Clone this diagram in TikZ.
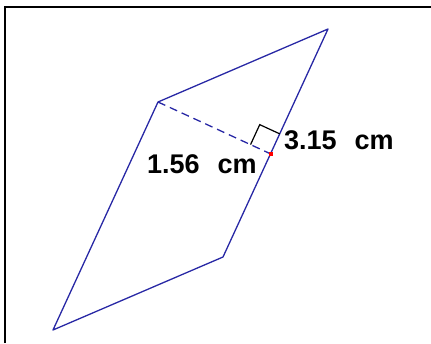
\documentclass[tikz,border=0pt]{standalone}
\usepackage{fontspec}
\setmainfont{Liberation Sans}
\usetikzlibrary{calc}
\definecolor{pgblue}{RGB}{40,40,165}
\begin{document}
\begin{tikzpicture}[x=1pt,y=-1pt,
        side/.style={pgblue, line width=1.3pt, line join=round},
        lbl/.style={anchor=base west, inner sep=0pt, font=\fontsize{27}{30}\selectfont\bfseries}]
            \useasboundingbox (0,0) rectangle (431,343);
            \draw [line width=2pt] (5,343) -- (5,6.5) -- (431,6.5);
            \coordinate (A) at (158,102);
            \coordinate (B) at (328,29);
            \coordinate (C) at (223,257);
            \coordinate (D) at (53,330);
            \coordinate (F) at ($(C)!(A)!(B)$);
            \draw [side] (A) -- (B) -- (C) -- (D) -- cycle;
            \draw [side, dash pattern=on 8pt off 5pt] (A) -- (F);
            \coordinate (P) at ($(F)!22pt!(A)$);
            \coordinate (Q) at ($(F)!22pt!(B)$);
            \draw [line width=1.2pt] (P) -- ($(P)+(Q)-(F)$) -- (Q);
            \fill [red] ($(F)+(-2,-2)$) rectangle ($(F)+(2,2)$);
            \node [lbl] (side) at (284,149.5) {3.15\hspace{18pt}cm};
            \node [lbl] (height) at (147,173.5) {1.56\hspace{18pt}cm};
        \end{tikzpicture}
\end{document}
